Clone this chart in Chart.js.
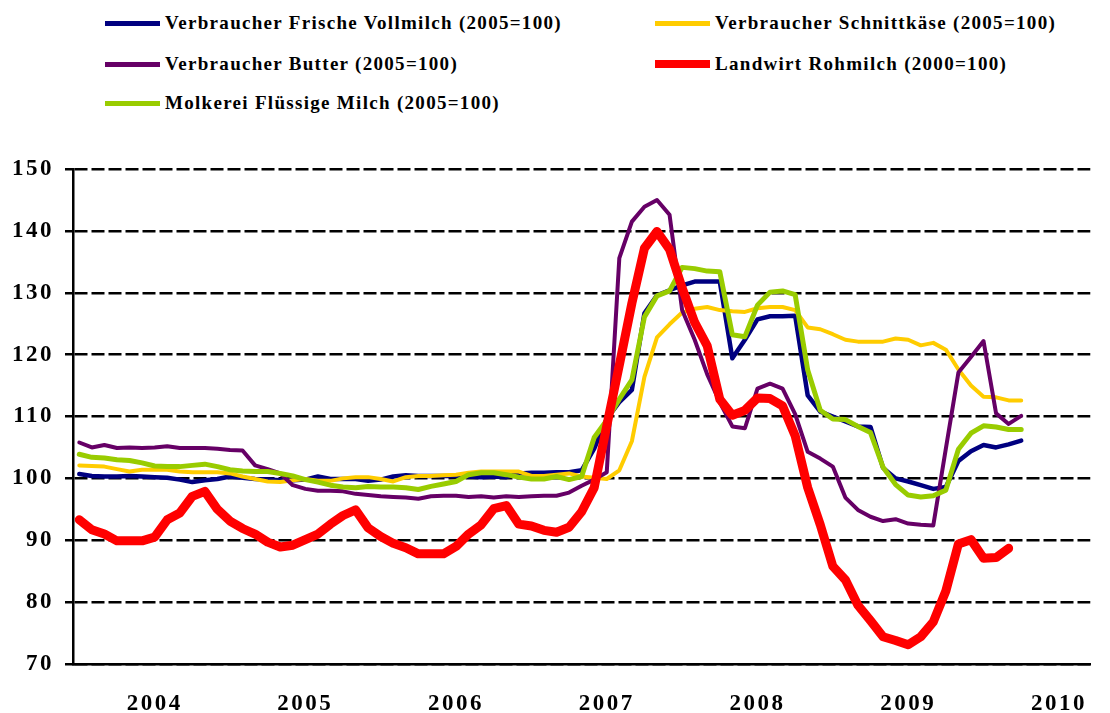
<!DOCTYPE html>
<html lang="de">
<head>
<meta charset="utf-8">
<title>Milchpreise</title>
<script src="https://cdn.jsdelivr.net/npm/chart.js@4.4.1/dist/chart.umd.min.js"></script>
<style>
  html, body { margin: 0; padding: 0; background: #fff; }
  body {
    width: 1110px; height: 713px; position: relative; overflow: hidden;
    font-family: "Liberation Serif", "Times New Roman", serif;
  }
  .legend-item {
    position: absolute; display: flex; align-items: center;
    transform: translateY(-50%);
    font-weight: bold; font-size: 19px; letter-spacing: 1.3px;
    white-space: nowrap; color: #000;
  }
  .legend-item i { display: inline-block; width: 55px; margin-right: 5px; }
  #chartBox { position: absolute; left: 0; top: 0; width: 1110px; height: 713px; }
</style>
</head>
<body>
<div id="legend"></div>
<div id="chartBox"><canvas id="milkChart"></canvas></div>

<script>
"use strict";

/* ── Data (monthly, Jan 2004 onwards) ─────────────────────────────────── */
const yearLabels = ["2004", "2005", "2006", "2007", "2008", "2009", "2010"];

const vollmilch = [
  100.7, 100.4, 100.3, 100.3, 100.4, 100.3, 100.2, 100.1, 99.8, 99.4, 99.7, 99.9,
  100.3, 100.1, 99.9, 99.8, 99.7, 99.7, 99.8, 100.3, 99.9, 99.9, 99.9, 99.6,
  99.8, 100.3, 100.5, 100.4, 100.4, 100.4, 100.4, 100.3, 100.2, 100.3, 100.2, 100.8,
  100.9, 100.9, 101.0, 101.0, 101.3, 104.8, 109.6, 112.3, 114.3, 126.7, 129.6, 130.4,
  131.2, 131.8, 131.8, 131.8, 119.4, 122.4, 125.7, 126.2, 126.2, 126.3, 113.4, 110.8,
  110.0, 109.2, 108.4, 108.3, 101.7, 100.0, 99.5, 98.9, 98.3, 98.6, 102.8, 104.4,
  105.4, 105.0, 105.5, 106.1,
];

const schnittkaese = [
  102.1, 102.0, 101.9, 101.5, 101.1, 101.4, 101.4, 101.4, 101.1, 101.0, 101.0, 101.0,
  100.8, 100.3, 99.9, 99.5, 99.4, 99.7, 99.9, 99.6, 99.6, 100.0, 100.2, 100.2,
  99.9, 99.5, 100.2, 100.4, 100.4, 100.5, 100.6, 100.9, 101.1, 101.1, 101.1, 101.1,
  100.4, 100.4, 100.6, 100.8, 100.3, 100.1, 99.9, 101.3, 106.0, 116.4, 122.8, 124.9,
  126.8, 127.4, 127.7, 127.2, 127.0, 126.9, 127.5, 127.7, 127.7, 127.2, 124.4, 124.1,
  123.3, 122.4, 122.1, 122.1, 122.1, 122.6, 122.4, 121.5, 121.9, 120.8, 117.6, 115.0,
  113.2, 113.1, 112.6, 112.6,
];

const butter = [
  105.8, 105.0, 105.4, 104.9, 105.0, 104.9, 105.0, 105.2, 104.9, 104.9, 104.9, 104.8,
  104.6, 104.5, 102.1, 101.5, 100.8, 98.9, 98.3, 98.0, 98.0, 97.9, 97.5, 97.3,
  97.1, 97.0, 96.9, 96.7, 97.1, 97.2, 97.2, 97.0, 97.1, 96.9, 97.1, 97.0,
  97.1, 97.2, 97.2, 97.7, 98.8, 99.8, 101.0, 135.6, 141.5, 143.9, 145.0, 142.6,
  127.2, 122.4, 116.8, 112.3, 108.4, 108.1, 114.5, 115.3, 114.5, 110.4, 104.3, 103.2,
  101.9, 96.9, 94.9, 93.8, 93.1, 93.4, 92.7, 92.5, 92.4, 104.8, 117.1, 119.6,
  122.2, 110.5, 108.8, 110.1,
];

const rohmilch = [
  93.3, 91.7, 91.0, 89.9, 89.9, 89.9, 90.5, 93.3, 94.4, 97.1, 97.9, 95.0,
  93.1, 91.9, 91.0, 89.7, 88.9, 89.2, 90.1, 91.0, 92.6, 94.0, 94.9, 92.0,
  90.6, 89.5, 88.8, 87.8, 87.8, 87.8, 89.0, 91.0, 92.5, 95.1, 95.6, 92.6,
  92.3, 91.6, 91.3, 92.1, 94.6, 98.5, 108.5, 118.3, 128.3, 137.2, 139.9, 137.0,
  130.8, 125.2, 121.4, 112.8, 110.2, 111.0, 113.0, 112.9, 111.7, 106.9, 98.5, 92.5,
  85.8, 83.6, 79.5, 77.0, 74.4, 73.8, 73.1, 74.4, 76.8, 81.8, 89.4, 90.1,
  87.1, 87.2, 88.7,
];

const molkerei = [
  103.9, 103.4, 103.3, 103.0, 102.9, 102.5, 102.0, 101.9, 101.9, 102.1, 102.3, 101.9,
  101.4, 101.2, 101.1, 101.1, 100.8, 100.4, 99.8, 99.4, 98.9, 98.6, 98.5, 98.7,
  98.6, 98.6, 98.5, 98.2, 98.7, 99.1, 99.5, 100.6, 100.9, 100.9, 100.6, 100.2,
  99.9, 99.9, 100.3, 99.8, 100.3, 106.6, 109.4, 112.8, 115.9, 126.1, 129.5, 130.3,
  134.1, 133.9, 133.5, 133.4, 123.2, 122.9, 128.0, 130.1, 130.3, 129.7, 117.5, 111.0,
  109.6, 109.5, 108.4, 107.4, 101.8, 99.0, 97.3, 97.0, 97.2, 98.1, 104.7, 107.3,
  108.5, 108.3, 107.9, 107.9,
];

/* ── Series definitions ──────────────────────────────────────────────── */
const SERIES = [
  { label: "Verbraucher Frische Vollmilch (2005=100)", data: vollmilch,    color: "#000080", width: 4.5, order: 4 },
  { label: "Verbraucher Schnittkäse (2005=100)",       data: schnittkaese, color: "#ffcc00", width: 4,   order: 3 },
  { label: "Verbraucher Butter (2005=100)",            data: butter,       color: "#660066", width: 4,   order: 2 },
  { label: "Landwirt Rohmilch (2000=100)",             data: rohmilch,     color: "#ff0000", width: 9,   order: 0 },
  { label: "Molkerei Flüssige Milch (2005=100)",       data: molkerei,     color: "#99cc00", width: 5,   order: 1 },
];

// legend slots: [left, centre y]
const LEGEND_POS = [[105, 23], [655, 23], [105, 64], [655, 64], [105, 103]];

/* ── Month categories Jan 2004 .. Sep 2010 ───────────────────────────── */
function buildMonthLabels(count) {
  const out = [];
  for (let i = 0; i < count; i++) {
    const y = yearLabels[Math.floor(i / 12)];
    out.push(`${y}-${String((i % 12) + 1).padStart(2, "0")}`);
  }
  return out;
}

/* ── HTML legend ─────────────────────────────────────────────────────── */
function buildLegend() {
  const box = document.getElementById("legend");
  SERIES.forEach((s, i) => {
    const el = document.createElement("div");
    el.className = "legend-item";
    el.style.left = LEGEND_POS[i][0] + "px";
    el.style.top = LEGEND_POS[i][1] + "px";
    const sw = document.createElement("i");
    sw.style.height = (s.width === 9 ? 8 : 5) + "px";
    sw.style.background = s.color;
    el.appendChild(sw);
    el.appendChild(document.createTextNode(s.label));
    box.appendChild(el);
  });
}

// wider glyph spacing for the axis labels (the original type is stretched)
const tickSpacing = {
  id: "tickSpacing",
  beforeDraw(chart) { chart.ctx.save(); chart.ctx.letterSpacing = "2.5px"; },
  afterDraw(chart) { chart.ctx.restore(); },
};

/* ── Chart ───────────────────────────────────────────────────────────── */
function initMilkChart() {
  const canvas = document.getElementById("milkChart");
  const ctx = canvas.getContext("2d");
  const tickFont = { family: '"Liberation Serif", "Times New Roman", serif', size: 23, weight: "bold" };

  new Chart(ctx, {
    type: "line",
    data: {
      labels: buildMonthLabels(81),
      datasets: SERIES.map((s) => ({
        label: s.label,
        data: s.data,
        borderColor: s.color,
        backgroundColor: s.color,
        borderWidth: s.width,
        order: s.order,
        pointRadius: 0,
        tension: 0,
        fill: false,
        borderJoinStyle: "round",
        borderCapStyle: "round",
      })),
    },
    plugins: [tickSpacing],
    options: {
      responsive: true,
      maintainAspectRatio: false,
      animation: false,
      layout: { padding: { top: 169, left: 0, right: 0, bottom: 0 } },
      plugins: { legend: { display: false }, tooltip: { enabled: false } },
      scales: {
        x: {
          offset: true,
          grid: { display: true, drawOnChartArea: false, drawTicks: false },
          border: { display: true, color: "#000", width: 2.5 },
          ticks: {
            autoSkip: false,
            maxRotation: 0,
            padding: 26,
            color: "#000",
            font: tickFont,
            callback: (v, i) => (i % 12 === 6 ? yearLabels[Math.floor(i / 12)] : ""),
          },
          afterFit: (s) => { s.height = 49; },
        },
        y: {
          min: 70,
          max: 150,
          ticks: { stepSize: 10, color: "#000", font: tickFont, padding: 11 },
          grid: {
            color: "#000",
            lineWidth: 2.5,
            tickLength: 8,
            tickWidth: 2.5,
            tickColor: "#000",
            tickBorderDash: [],
          },
          border: { display: true, color: "#000", width: 2.5, dash: [13, 4] },
          afterFit: (s) => { s.width = 73; },
        },
      },
    },
  });
}

/* ── Bootstrap ───────────────────────────────────────────────────────── */
document.addEventListener("DOMContentLoaded", () => {
  buildLegend();
  initMilkChart();
});
</script>
</body>
</html>
